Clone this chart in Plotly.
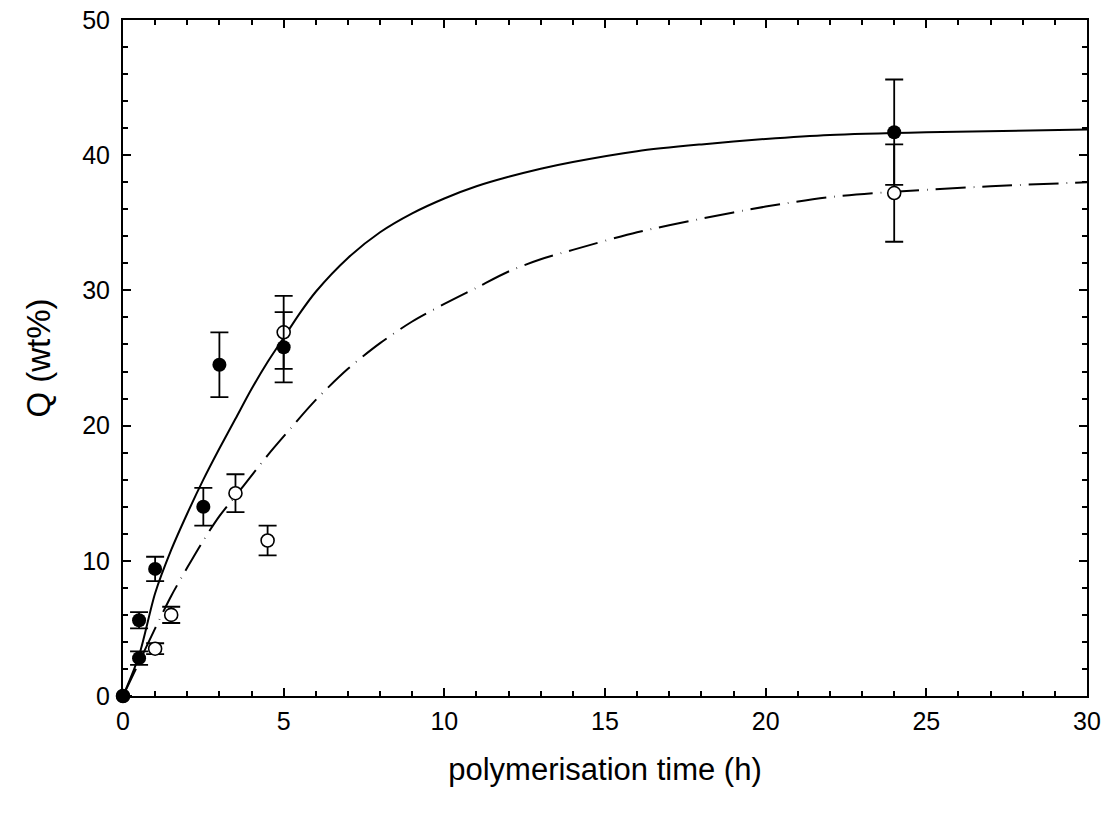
import plotly.graph_objects as go

# Measured data: filled circles
t_filled = [0, 0.5, 0.5, 1, 2.5, 3, 5, 24]
q_filled = [0, 2.8, 5.6, 9.4, 14.0, 24.5, 25.8, 41.7]
e_filled = [0, 0.5, 0.6, 0.9, 1.4, 2.4, 2.6, 3.9]

# Measured data: open circles
t_open = [0, 1, 1.5, 3.5, 4.5, 5, 24]
q_open = [0, 3.5, 6.0, 15.0, 11.5, 26.9, 37.2]
e_open = [0, 0.4, 0.6, 1.4, 1.1, 2.7, 3.6]

# Fitted curves
t_fit_solid = [0, 0.5, 1, 1.5, 2, 2.5, 3, 3.5, 4, 4.5, 5, 5.5, 6, 7, 8, 9, 10, 11, 12, 13, 14,
               16, 18, 20, 22, 25, 30]
q_fit_solid = [0, 3.0, 7.6, 10.8, 13.5, 16.0, 18.3, 20.5, 22.7, 24.7, 26.5, 28.3, 29.9, 32.4,
               34.3, 35.7, 36.8, 37.7, 38.4, 39.0, 39.5, 40.3, 40.8, 41.2, 41.5, 41.7, 41.9]

t_fit_dash = [0, 0.5, 1, 1.5, 2, 2.5, 3, 3.5, 4, 4.5, 5, 6, 7, 8, 9, 10, 11, 12, 13, 14, 16,
              18, 20, 22, 24, 27, 30]
q_fit_dash = [0, 2.5, 5.0, 7.4, 9.5, 11.5, 13.3, 14.8, 16.3, 17.8, 19.2, 21.9, 24.2, 26.1,
              27.7, 29.0, 30.2, 31.4, 32.3, 33.0, 34.3, 35.3, 36.2, 36.9, 37.3, 37.7, 38.0]

x_ticks = [0, 5, 10, 15, 20, 25, 30]
y_ticks = [0, 10, 20, 30, 40, 50]

FONT = "Liberation Sans, Arial, sans-serif"

fig = go.Figure()

fig.add_trace(go.Scatter(x=t_fit_solid, y=q_fit_solid, mode="lines",
                         line=dict(color="black", width=2, shape="spline", smoothing=0.8),
                         hoverinfo="skip", showlegend=False))
fig.add_trace(go.Scatter(x=t_fit_dash, y=q_fit_dash, mode="lines",
                         line=dict(color="black", width=2, shape="spline", smoothing=0.8,
                                   dash="30px,8px,0.6px,8px"),
                         hoverinfo="skip", showlegend=False))

fig.add_trace(go.Scatter(x=t_open, y=q_open, mode="markers",
                         marker=dict(symbol="circle", size=13, color="white",
                                     line=dict(color="black", width=1.6)),
                         error_y=dict(type="data", array=e_open, color="black",
                                      thickness=1.8, width=9),
                         cliponaxis=False, showlegend=False))
fig.add_trace(go.Scatter(x=t_filled, y=q_filled, mode="markers",
                         marker=dict(symbol="circle", size=14, color="black",
                                     line=dict(color="black", width=0)),
                         error_y=dict(type="data", array=e_filled, color="black",
                                      thickness=1.8, width=9),
                         cliponaxis=False, showlegend=False))

axis_common = dict(
    showgrid=False, zeroline=False, showline=True, linecolor="black", linewidth=2,
    mirror="allticks", ticks="inside", ticklen=8, tickwidth=1.5, tickcolor="black",
    tickfont=dict(family=FONT, size=25, color="black"),
    ticklabeloverflow="allow", automargin=False,
)

fig.update_xaxes(range=[0, 30], tickvals=x_ticks, ticktext=[str(v) for v in x_ticks],
                 minor=dict(dtick=1, ticks="inside", ticklen=5, tickwidth=1.5, tickcolor="black"),
                 ticklabelstandoff=2,
                 title=dict(text="polymerisation time (h)", standoff=24,
                            font=dict(family=FONT, size=31, color="black")),
                 **axis_common)
fig.update_yaxes(range=[0, 50], tickvals=y_ticks, ticktext=[str(v) for v in y_ticks],
                 minor=dict(dtick=2, ticks="inside", ticklen=5, tickwidth=1.5, tickcolor="black"),
                 ticklabelstandoff=6,
                 title=dict(text="Q (wt%)", standoff=22,
                            font=dict(family=FONT, size=33, color="black")),
                 **axis_common)

fig.update_layout(
    width=1108, height=817,
    margin=dict(l=123, r=21, t=20, b=121),
    paper_bgcolor="white", plot_bgcolor="white",
)

fig.write_html("out.html",
               config={"displayModeBar": False},
               post_script="document.body.style.margin='0';document.body.style.overflow='hidden';")
